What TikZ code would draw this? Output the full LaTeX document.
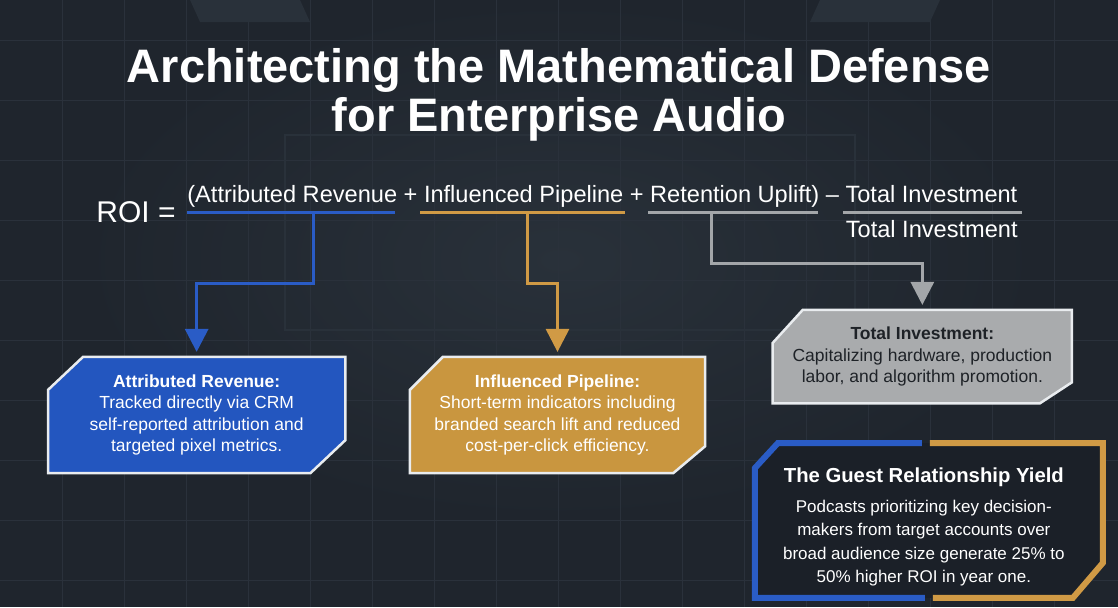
\documentclass[tikz,border=0pt]{standalone}
\usepackage{fontspec}
\setmainfont{Liberation Sans}
\usetikzlibrary{arrows.meta,calc}
\definecolor{bgc}{HTML}{1F252D}
\definecolor{bgl}{HTML}{29313A}
\definecolor{gridc}{HTML}{2A313B}
\definecolor{bluec}{HTML}{2A5CC6}
\definecolor{bluef}{HTML}{2356BF}
\definecolor{orc}{HTML}{D09A45}
\definecolor{orf}{HTML}{C9963F}
\definecolor{grc}{HTML}{A3A6A9}
\definecolor{grf}{HTML}{A9ABAD}
\definecolor{darktext}{HTML}{1E2227}
\definecolor{gyf}{HTML}{1B2028}
\definecolor{edgec}{HTML}{E9ECEF}
\pgfdeclarelayer{bglayer}
\pgfdeclarelayer{boxlayer}
\pgfsetlayers{bglayer,boxlayer,main}
\tikzset{
  titletext/.style={text=white,font=\bfseries\fontsize{47}{50}\selectfont,align=center,inner sep=0pt},
  formtext/.style={text=white,inner sep=0pt},
  uline/.style={line width=3pt},
  conn/.style={line width=3pt,-{Triangle[width=23pt,length=23pt]},shorten >=5pt},
  boxtext/.style={align=center,inner sep=0pt,font=\fontsize{17.5}{21.5}\selectfont},
  boxedge/.style={line width=2.5pt,draw=edgec,line join=miter},
}
\begin{document}
\begin{tikzpicture}[x=1pt,y=-1pt]
\begin{pgfonlayer}{bglayer}
  \fill[bgc] (0,0) rectangle (1118,607);
  \shade[inner color=bgl,outer color=bgc] (80,0) rectangle (1040,520);
  \foreach \gx in {62,124,...,1100} \draw[gridc,line width=0.5pt] (\gx,0) -- (\gx,607);
  \foreach \gy in {40,100,...,600} \draw[gridc,line width=0.5pt] (0,\gy) -- (1118,\gy);
  \fill[bgl] (190,0) -- (300,0) -- (310,22) -- (200,22) -- cycle;
  \fill[bgl] (820,0) -- (940,0) -- (930,22) -- (810,22) -- cycle;
  \draw[bgl,line width=1.5pt] (285,135) rectangle (855,330);
\end{pgfonlayer}

% title
\node[titletext,anchor=base] (t1) at (559,82) {Architecting the Mathematical Defense};
\node[titletext,anchor=base] (t2) at (559,131) {for Enterprise Audio};

% formula
\node[formtext,anchor=base west,font=\fontsize{30}{30}\selectfont] (roi) at (96,222) {ROI =};
\node[formtext,anchor=base west,font=\fontsize{23.6}{24}\selectfont] (num) at (187,202)
  {(Attributed Revenue + Influenced Pipeline + Retention Uplift) -- Total Investment};
\node[formtext,anchor=base east,font=\fontsize{23.6}{24}\selectfont] (den) at (1018,237) {Total Investment};

\coordinate (b1) at (187,212); \coordinate (b2) at (395,212);
\coordinate (o1) at (420,212); \coordinate (o2) at (625,212);
\coordinate (g1) at (648,212); \coordinate (g2) at (818,212);
\coordinate (f1) at (843,212); \coordinate (f2) at (1022,212);
\draw[uline,bluec] (b1) -- (b2);
\draw[uline,orc] (o1) -- (o2);
\draw[uline,grc] (g1) -- (g2);
\draw[uline,grc] (f1) -- (f2);

% boxes
\node[boxtext,text=white,minimum width=297pt,minimum height=116pt] (rev) at (196.5,415)
  {\textbf{Attributed Revenue:}\\Tracked directly via CRM\\self-reported attribution and\\targeted pixel metrics.};
\node[boxtext,text=white,minimum width=295pt,minimum height=116pt] (pip) at (557.5,415)
  {\textbf{Influenced Pipeline:}\\Short-term indicators including\\branded search lift and reduced\\cost-per-click efficiency.};
\node[boxtext,text=darktext,minimum width=299pt,minimum height=93pt] (inv) at (922.5,356.5)
  {\textbf{Total Investment:}\\Capitalizing hardware, production\\labor, and algorithm promotion.};
\node[align=center,inner sep=0pt,text=white,minimum width=348pt,minimum height=155pt,
      font=\fontsize{17}{23.5}\selectfont] (gy) at (924,527)
  {{\bfseries\fontsize{20.3}{23}\selectfont The Guest Relationship Yield}\\[6pt]
   Podcasts prioritizing key decision-\\makers from target accounts over\\broad audience size generate 25\% to\\50\% higher ROI in year one.};

\begin{pgfonlayer}{boxlayer}
  \draw[boxedge,fill=bluef] ($(rev.north west)+(35,0)$) -- (rev.north east) -- ($(rev.south east)+(0,-33)$)
     -- ($(rev.south east)+(-35,0)$) -- (rev.south west) -- ($(rev.north west)+(0,33)$) -- cycle;
  \draw[boxedge,fill=orf] ($(pip.north west)+(33,0)$) -- (pip.north east) -- ($(pip.south east)+(0,-27)$)
     -- ($(pip.south east)+(-32,0)$) -- (pip.south west) -- ($(pip.north west)+(0,33)$) -- cycle;
  \draw[boxedge,fill=grf] ($(inv.north west)+(30,0)$) -- (inv.north east) -- ($(inv.south east)+(0,-21)$)
     -- ($(inv.south east)+(-32,0)$) -- (inv.south west) -- ($(inv.north west)+(0,33)$) -- cycle;
  \fill[gyf] (778,443) -- (1103,443) -- (1103,563) -- (1073,598) -- (755,598) -- (755,468) -- cycle;
  \draw[bluec,line width=6pt,line join=miter] (922,443) -- (778,443) -- (755,468) -- (755,598) -- (925,598);
  \draw[orc,line width=6pt,line join=miter] (930,443) -- (1103,443) -- (1103,563) -- (1073,598) -- (933,598);
\end{pgfonlayer}

% connectors
\coordinate (bs) at (313,212);
\coordinate (os) at (527,212);
\coordinate (gs) at (712,212);
\draw[conn,bluec] (bs) -- ++(0,71) -| (rev.north);
\draw[conn,orc] (os) -- ++(0,71) -| (pip.north);
\draw[conn,grc] (gs) -- ++(0,51) -| (inv.north);
\end{tikzpicture}
\end{document}
